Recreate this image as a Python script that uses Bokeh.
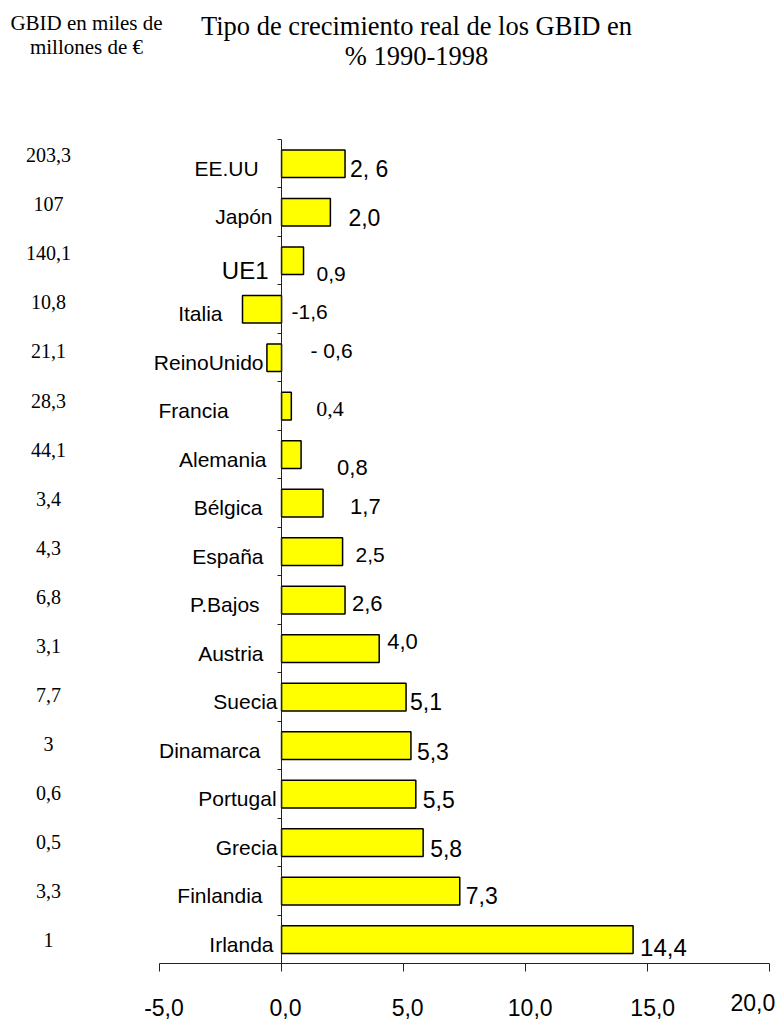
from bokeh.plotting import figure
from bokeh.models import ColumnDataSource, LabelSet, Label, Range1d, FixedTicker
from bokeh.core.properties import value, field
from bokeh.embed import file_html
from bokeh.resources import INLINE

# ---------------- data ----------------
countries = ["EE.UU", "Japón", "UE1", "Italia", "ReinoUnido", "Francia", "Alemania",
             "Bélgica", "España", "P.Bajos", "Austria", "Suecia", "Dinamarca",
             "Portugal", "Grecia", "Finlandia", "Irlanda"]
growth = [2.6, 2.0, 0.9, -1.6, -0.6, 0.4, 0.8, 1.7, 2.5, 2.6, 4.0, 5.1, 5.3, 5.5, 5.8, 7.3, 14.4]
growth_labels = ["2, 6", "2,0", "0,9", "-1,6", "- 0,6", "0,4", "0,8", "1,7", "2,5", "2,6",
                 "4,0", "5,1", "5,3", "5,5", "5,8", "7,3", "14,4"]
gbid_labels = ["203,3", "107", "140,1", "10,8", "21,1", "28,3", "44,1", "3,4", "4,3", "6,8",
               "3,1", "7,7", "3", "0,6", "0,5", "3,3", "1"]
x_ticks = [-5, 0, 5, 10, 15, 20]
x_tick_labels = ["-5,0", "0,0", "5,0", "10,0", "15,0", "20,0"]
title_left = ["GBID en miles de", "millones de €"]
title_main = ["Tipo de crecimiento real de los GBID en", "% 1990-1998"]

# ---------------- layout (pixels) ----------------
W, H = 783, 1021
PLOT_L, PLOT_R = 159, 769.3     # pixel position of x = -5 and x = 20
PLOT_T, PLOT_B = 139, 963.3     # pixel position of top / bottom category boundaries

n = len(countries)
ypos = [n - 1 - i for i in range(n)]
X_MIN, X_MAX = x_ticks[0], x_ticks[-1]
Y_MIN, Y_MAX = -0.5, n - 0.5

ppx = (PLOT_R - PLOT_L) / (X_MAX - X_MIN)
ppy = (PLOT_B - PLOT_T) / (Y_MAX - Y_MIN)
x_start = X_MIN - PLOT_L / ppx
x_end = X_MAX + (W - PLOT_R) / ppx
y_end = Y_MAX + PLOT_T / ppy
y_start = Y_MIN - (H - PLOT_B) / ppy

cat_dx = [-23, -9, -13, -59, -18, -53, -15, -19, -18, -22, -18, -4, -21, -5, -4, -19, -8]
cat_dy = [-12] * n
cat_dy[2] = -18
cat_size = ["21px"] * n
cat_size[2] = "24px"

val_dx = [5, 18, 13, 10, 29, 25, 36, 27, 13, 7, 8, 4, 6, 7, 7, 6, 7]
val_dy = [-13, -13.7, -20.7, -10, 0, -10.3, -20.7, -11.3, -10, -10.7, 0, -13, -14.5, -14, -14, -13, -16]
val_size = ["23px", "23px", "21px", "21px", "21px", "22px", "22px", "22px", "21px", "22px",
            "22px", "23px", "23px", "23px", "23px", "23px", "24px"]
val_serif = [False] * n
val_serif[5] = True          # "0,4" is set in a serif face

gb_dy = [1.5 - 9.2 * k / (n - 1) for k in range(n)]

tick_dx = [4.5, 4, 4, 4.5, 5, -17]
tick_dy = [-76, -76, -76, -76, -76, -71]

SANS = "Liberation Sans"
SERIF = "Liberation Serif"
AX = "#222222"

# ---------------- figure ----------------
p = figure(width=W, height=H,
           x_range=Range1d(x_start, x_end), y_range=Range1d(y_start, y_end),
           output_backend="svg", toolbar_location=None,
           min_border=0, min_border_left=0, min_border_right=0,
           min_border_top=0, min_border_bottom=0)
p.outline_line_color = None
p.xgrid.visible = False
p.ygrid.visible = False
p.background_fill_color = "white"
p.border_fill_color = "white"

# x axis along the bottom boundary, limited to -5..20
xa = p.xaxis[0]
xa.fixed_location = Y_MIN
xa.bounds = (X_MIN, X_MAX)
xa.ticker = FixedTicker(ticks=x_ticks)
xa.major_label_text_color = None
xa.axis_line_color = AX
xa.major_tick_line_color = AX
xa.major_tick_out = 8
xa.major_tick_in = 0
xa.minor_tick_out = 0
xa.minor_tick_in = 0

# vertical axis at x = 0, ticks at category boundaries
bounds = [k - 0.5 for k in range(n + 1)]
ya = p.yaxis[0]
ya.fixed_location = 0
ya.bounds = (Y_MIN, Y_MAX)
ya.ticker = FixedTicker(ticks=bounds)
ya.major_label_text_color = None
ya.axis_line_color = AX
ya.major_tick_line_color = AX
ya.major_tick_out = 4
ya.major_tick_in = 0
ya.minor_tick_out = 0
ya.minor_tick_in = 0

src = ColumnDataSource(dict(
    country=countries, growth=growth, gbid=gbid_labels, y=ypos,
    zero=[0] * n, xmin=[X_MIN] * n,
    cat_dx=cat_dx, cat_dy=cat_dy, cat_size=cat_size, gb_dy=gb_dy,
))

p.hbar(y="y", left=0, right="growth", height=0.57, source=src,
       fill_color="#FFFF00", line_color="black", line_width=1.5)

p.add_layout(LabelSet(x="zero", y="y", text="country", source=src,
                      x_offset="cat_dx", y_offset="cat_dy", text_align="right",
                      text_baseline="alphabetic", text_font=value(SANS),
                      text_font_size=field("cat_size"), text_color="black"))

# value labels, split by typeface
for serif_flag, font in [(False, SANS), (True, SERIF)]:
    idx = [i for i in range(n) if val_serif[i] == serif_flag]
    vsrc = ColumnDataSource(dict(
        x=[max(growth[i], 0) for i in idx], y=[ypos[i] for i in idx],
        t=[growth_labels[i] for i in idx], dx=[val_dx[i] for i in idx],
        dy=[val_dy[i] for i in idx], fs=[val_size[i] for i in idx]))
    p.add_layout(LabelSet(x="x", y="y", text="t", source=vsrc,
                          x_offset="dx", y_offset="dy", text_align="left",
                          text_baseline="alphabetic", text_font=value(font),
                          text_font_size=field("fs"), text_color="black"))

p.add_layout(LabelSet(x="xmin", y="y", text="gbid", source=src,
                      x_offset=-111, y_offset="gb_dy", text_align="center",
                      text_baseline="alphabetic", text_font=value(SERIF),
                      text_font_size="20px", text_color="black"))

tsrc = ColumnDataSource(dict(x=x_ticks, t=x_tick_labels, y=[ypos[-1]] * len(x_ticks),
                             dx=tick_dx, dy=tick_dy))
p.add_layout(LabelSet(x="x", y="y", text="t", source=tsrc, x_offset="dx", y_offset="dy",
                      text_align="center", text_baseline="alphabetic",
                      text_font=value(SANS), text_font_size="23px", text_color="black"))

# titles
for txt, dy in zip(title_left, [140.5, 116.5]):
    p.add_layout(Label(x=X_MIN, y=ypos[0], x_offset=-73, y_offset=dy, text=txt,
                       text_align="center", text_baseline="alphabetic",
                       text_font=SERIF, text_font_size="21px", text_color="black"))
for txt, dy in zip(title_main, [137.5, 107.5]):
    p.add_layout(Label(x=X_MIN, y=ypos[0], x_offset=257, y_offset=dy, text=txt,
                       text_align="center", text_baseline="alphabetic",
                       text_font=SERIF, text_font_size="26.5px", text_color="black"))

open("out.html", "w").write(file_html(p, INLINE))
